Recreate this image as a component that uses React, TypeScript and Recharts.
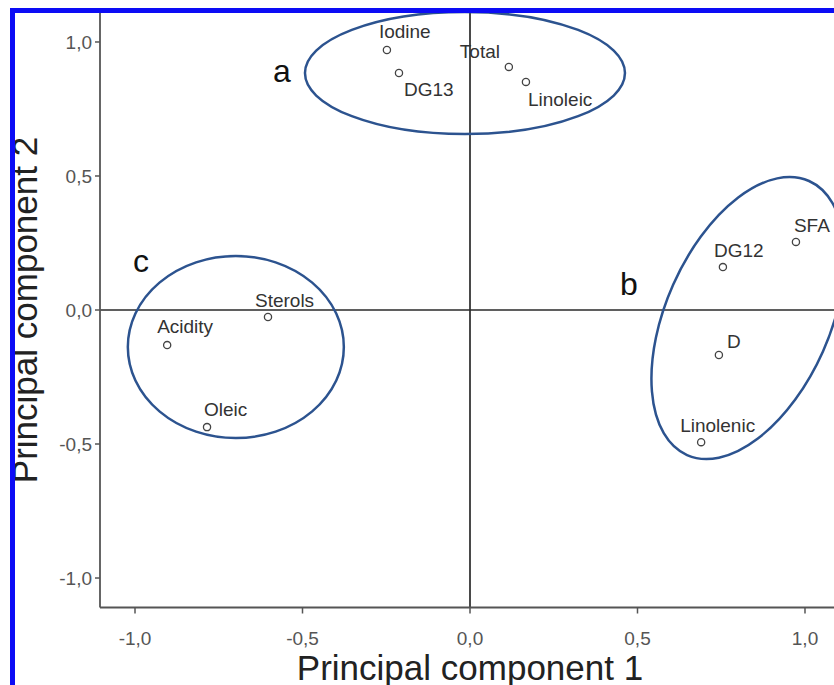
import React from 'react';
import { ScatterChart, Scatter, XAxis, YAxis, ReferenceLine, ReferenceDot } from 'recharts';

// loadings of the variables on the first two components
const VARIABLES = ['Iodine', 'DG13', 'Total', 'Linoleic', 'SFA', 'DG12', 'D', 'Linolenic', 'Sterols', 'Acidity', 'Oleic'];
const PC1 = [-0.248, -0.212, 0.116, 0.167, 0.973, 0.755, 0.743, 0.69, -0.603, -0.904, -0.785];
const PC2 = [0.97, 0.884, 0.907, 0.851, 0.254, 0.16, -0.168, -0.493, -0.026, -0.131, -0.437];

const AXIS_TICKS = [-1, -0.5, 0, 0.5, 1];

// groups circled on the plot
const GROUPS = ['a', 'b', 'c'];
const GROUP_CX = [-0.015, 0.83, -0.699];
const GROUP_CY = [0.884, -0.03, -0.138];
const GROUP_LABEL_X = [-0.588, 0.448, -1.006];
const GROUP_LABEL_Y = [0.851, 0.056, 0.142];

const data = VARIABLES.map((name, i) => ({ name, x: PC1[i], y: PC2[i] }));

// ellipse size in px, rotation in degrees
const ELLIPSE_STYLE: Record<string, { rx: number; ry: number; angle: number }> = {
  a: { rx: 160, ry: 61, angle: 0 },
  b: { rx: 150, ry: 82, angle: -66 },
  c: { rx: 108, ry: 91, angle: 0 },
};

// where each variable name sits relative to its point (px)
const LABEL_OFFSET: Record<string, [number, number]> = {
  Iodine: [-8, -12],
  DG13: [5, 23],
  Total: [-49, -9],
  Linoleic: [2, 24],
  SFA: [-2, -10],
  DG12: [-9, -10],
  D: [8, -7],
  Linolenic: [-21, -10],
  Sterols: [-13, -10],
  Acidity: [-10, -12],
  Oleic: [-3, -11],
};

const FONT = '"Liberation Sans", Arial, sans-serif';
const fmt = (v: number) => v.toFixed(1).replace('.', ',');

const VariablePoint = (props: any) => {
  const { cx, cy, payload } = props;
  const [dx, dy] = LABEL_OFFSET[payload.name] ?? [4, -8];
  return (
    <g>
      <circle cx={cx} cy={cy} r={3.6} fill="#fff" stroke="#444" strokeWidth={1.3} />
      <text x={cx + dx} y={cy + dy} fontSize={19} fill="#333" fontFamily={FONT}>
        {payload.name}
      </text>
    </g>
  );
};

const ellipseShape = (g: string) => (props: any) => {
  const { cx, cy } = props;
  const s = ELLIPSE_STYLE[g];
  return (
    <ellipse
      cx={cx}
      cy={cy}
      rx={s.rx}
      ry={s.ry}
      transform={`rotate(${s.angle} ${cx} ${cy})`}
      fill="none"
      stroke="#2c538f"
      strokeWidth={2.5}
    />
  );
};

const letterShape = (g: string) => (props: any) => (
  <text x={props.cx} y={props.cy} fontSize={32} fill="#111" fontFamily={FONT}>
    {g}
  </text>
);

export default function App() {
  return (
    <div style={{ position: 'absolute', left: 0, top: 0, width: 834, height: 685, overflow: 'hidden', background: '#fff' }}>
      <div style={{ position: 'absolute', left: 0, top: 0 }}>
        <ScatterChart width={860} height={700} margin={{ top: 12.5, right: 20, bottom: 32.5, left: 20 }}>
          <XAxis
            type="number"
            dataKey="x"
            domain={[-1.1045, 1.1045]}
            allowDataOverflow
            ticks={AXIS_TICKS}
            tickFormatter={fmt}
            height={60}
            tickSize={6}
            tickMargin={18}
            axisLine={{ stroke: '#555', strokeWidth: 1.8 }}
            tickLine={{ stroke: '#555', strokeWidth: 1.5 }}
            tick={{ fill: '#555', fontSize: 19, fontFamily: FONT }}
            label={(p: any) => (
              <text
                x={p.viewBox.x + p.viewBox.width / 2}
                y={p.viewBox.y + 72.5}
                textAnchor="middle"
                fontSize={35}
                fill="#222"
                fontFamily={FONT}
              >
                Principal component 1
              </text>
            )}
          />
          <YAxis
            type="number"
            dataKey="y"
            domain={[-1.11, 1.11]}
            allowDataOverflow
            ticks={AXIS_TICKS}
            tickFormatter={fmt}
            width={80}
            tickSize={5}
            tickMargin={3}
            axisLine={{ stroke: '#555', strokeWidth: 1.8 }}
            tickLine={{ stroke: '#555', strokeWidth: 1.5 }}
            tick={{ fill: '#555', fontSize: 19, fontFamily: FONT }}
            label={(p: any) => {
              const x = p.viewBox.x + 17;
              const y = p.viewBox.y + p.viewBox.height / 2;
              return (
                <text
                  x={x}
                  y={y}
                  transform={`rotate(-90 ${x} ${y})`}
                  textAnchor="middle"
                  fontSize={35}
                  fill="#222"
                  fontFamily={FONT}
                >
                  Principal component 2
                </text>
              );
            }}
          />
          <ReferenceLine x={0} stroke="#2a2a2a" strokeWidth={1.7} />
          <ReferenceLine y={0} stroke="#2a2a2a" strokeWidth={1.7} />
          {GROUPS.map((g, i) => (
            <ReferenceDot key={`e-${g}`} x={GROUP_CX[i]} y={GROUP_CY[i]} ifOverflow="visible" shape={ellipseShape(g)} />
          ))}
          {GROUPS.map((g, i) => (
            <ReferenceDot
              key={`l-${g}`}
              x={GROUP_LABEL_X[i]}
              y={GROUP_LABEL_Y[i]}
              ifOverflow="visible"
              shape={letterShape(g)}
            />
          ))}
          <Scatter data={data} shape={VariablePoint} isAnimationActive={false} />
        </ScatterChart>
      </div>
      <div
        style={{
          position: 'absolute',
          left: 10,
          top: 8,
          width: 900,
          height: 900,
          border: '5px solid #0c0cf5',
          boxSizing: 'border-box',
          pointerEvents: 'none',
        }}
      />
    </div>
  );
}
